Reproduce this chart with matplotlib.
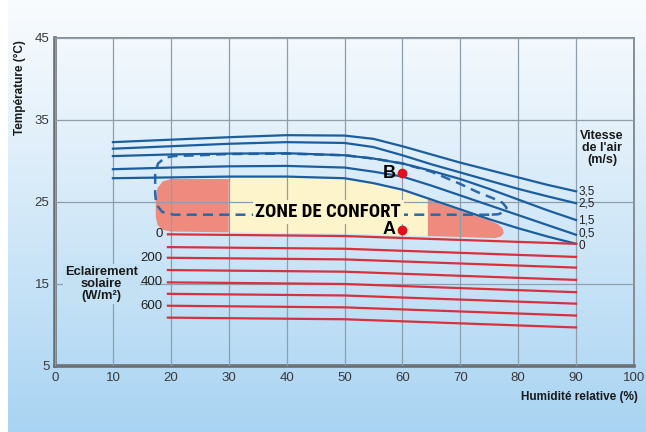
import numpy as np
import matplotlib.pyplot as plt
from matplotlib import font_manager

plt.rcParams['font.family'] = ['Liberation Sans', 'DejaVu Sans']

# air speed curves (m/s), temperature vs relative humidity
humidity = [10, 20, 30, 40, 50, 55, 60, 65, 70, 75, 80, 85, 90]
speed_labels = ["3,5", "2,5", "1,5", "0,5", "0"]
t_v35 = [32.3, 32.6, 32.9, 33.15, 33.1, 32.7, 31.8, 30.8, 29.8, 28.9, 28.0, 27.1, 26.3]
t_v25 = [31.5, 31.8, 32.1, 32.3, 32.2, 31.7, 30.7, 29.6, 28.6, 27.6, 26.6, 25.7, 24.85]
t_v15 = [30.6, 30.8, 30.9, 30.95, 30.7, 30.3, 29.7, 28.8, 27.8, 26.6, 25.3, 24.0, 22.8]
t_v05 = [29.0, 29.2, 29.35, 29.4, 29.2, 28.7, 28.1, 27.0, 25.8, 24.6, 23.4, 22.2, 21.0]
t_v0 = [27.9, 28.0, 28.1, 28.1, 27.9, 27.3, 26.5, 25.3, 24.1, 22.9, 21.8, 20.8, 19.9]

# solar irradiance lines (W/m2): 0,100,...,700
solar_x = [19.5, 50, 90]
solar_labels = ["0", "200", "400", "600"]
t_s0 = [21.06, 20.85, 19.9]
t_s100 = [19.5, 19.3, 18.3]
t_s200 = [18.2, 18.0, 17.0]
t_s300 = [16.7, 16.5, 15.5]
t_s400 = [15.2, 15.0, 14.0]
t_s500 = [13.8, 13.6, 12.6]
t_s600 = [12.35, 12.15, 11.15]
t_s700 = [10.9, 10.7, 9.7]

# comfort zone shapes
pinkL_x = [30, 20, 18.6, 17.7, 17.4, 17.4, 17.7, 18.6, 20, 30]
pinkL_t = [27.8, 27.8, 27.5, 26.7, 25.6, 23.2, 22.2, 21.6, 21.4, 21.3]
yellow_x = [30, 40, 50, 55, 60, 64.4, 64.4, 50, 30]
yellow_t = [27.95, 27.95, 27.75, 27.15, 26.35, 25.3, 20.85, 21.15, 21.3]
pinkR_x = [64.4, 65, 70, 75, 76.5, 77.3, 77.5, 77.0, 76, 64.4]
pinkR_t = [25.3, 25.15, 23.95, 22.75, 22.3, 21.8, 21.2, 20.8, 20.6, 20.85]

# dashed outline
dash_x = [75, 20.5, 18.5, 17.5, 17.3, 17.3, 17.8, 19.0, 20.5, 25, 30, 40, 50, 55, 60,
          65, 70, 73, 75.5, 77.3, 78.0, 77.6, 76.5, 75]
dash_t = [23.45, 23.45, 23.8, 24.7, 26.0, 28.5, 29.7, 30.4, 30.6, 30.7, 30.85, 30.9, 30.7,
          30.3, 29.7, 28.7, 27.2, 26.2, 25.5, 24.9, 24.3, 23.8, 23.5, 23.45]

point_x = [60, 60]
point_t = [28.5, 21.6]
point_names = ["B", "A"]

blue = "#1b5e9f"
red = "#d8303c"

# pick a narrow bold face for the zone title if one is installed
zone_font = dict(family=["Liberation Sans", "DejaVu Sans"], fontsize=10.5)
fonts = font_manager.fontManager.ttflist
names = {f.name for f in fonts}
for cand in ["Liberation Sans Narrow", "Roboto Condensed", "Open Sans Condensed",
             "DejaVu Sans Condensed", "Arial Narrow"]:
    if cand in names:
        zone_font = dict(family=[cand, "DejaVu Sans"], fontsize=13.5)
        break
else:
    if any(f.name == "DejaVu Sans" and f.stretch == "condensed" and f.weight == 700
           for f in fonts):
        zone_font = dict(family=["DejaVu Sans"], fontstretch="condensed", fontsize=12.5)

fig = plt.figure(figsize=(6.46, 4.32), dpi=100)
fig.patch.set_facecolor("white")

# gradient background panel
bg = fig.add_axes([8 / 646, 0, 1 - 8 / 646, 1])
grad = np.linspace(0, 1, 256).reshape(-1, 1)
top_c = np.array([0.975, 0.985, 0.995])
bot_c = np.array([0.66, 0.83, 0.95])
img = top_c + (bot_c - top_c) * grad[:, :, None] ** 1.1
bg.imshow(img, aspect="auto", extent=[0, 1, 0, 1], origin="upper")
bg.axis("off")
bg.set_zorder(-1)

ax = fig.add_axes([55 / 646, 1 - 366 / 432, 579 / 646, 328 / 432])
ax.set_facecolor("none")
ax.set_xlim(0, 100)
ax.set_ylim(5, 45)
ax.set_xticks(range(0, 101, 10))
ax.set_yticks([5, 15, 25, 35, 45])
ax.grid(True, color="#8d9eac", lw=0.9, zorder=1.5)
ax.set_axisbelow(False)
ax.tick_params(length=0, labelsize=9.5, colors="#3a3a3a", pad=4)
for s in ["left", "bottom"]:
    ax.spines[s].set_linewidth(2.6)
    ax.spines[s].set_color("#6b6f73")
for s in ["top", "right"]:
    ax.spines[s].set_linewidth(1.3)
    ax.spines[s].set_color("#7f858a")

ax.fill(yellow_x, yellow_t, color="#fdf4cb", lw=0, zorder=1)
ax.fill(pinkL_x, pinkL_t, color="#ee8b7e", lw=0, zorder=2)
ax.fill(pinkR_x, pinkR_t, color="#ee8b7e", lw=0, zorder=2)

ax.plot(dash_x, dash_t, color="#2a68aa", lw=1.8, ls=(0, (4, 2.5)), zorder=3)

label_nudge = [0, 0, 0, 0.1, -0.3]
for t, lab, dn in zip([t_v35, t_v25, t_v15, t_v05, t_v0], speed_labels, label_nudge):
    ax.plot(humidity, t, color=blue, lw=1.6, zorder=4)
    ax.text(90.4, t[-1] + dn, lab, fontsize=8.5, va="center", ha="left", color="#222222")

solar = [t_s0, t_s100, t_s200, t_s300, t_s400, t_s500, t_s600, t_s700]
for i, t in enumerate(solar):
    ax.plot(solar_x, t, color=red, lw=1.6, zorder=4)
    if i % 2 == 0:
        ax.text(18.6, t[0], solar_labels[i // 2], fontsize=9.5, va="center", ha="right",
                color="#222222", zorder=6)

ax.scatter(point_x, point_t, s=36, color="#e0101e", zorder=6)
for x, t, n in zip(point_x, point_t, point_names):
    ax.text(x - 1.2, t, n, fontsize=13, fontweight="bold", ha="right", va="center", zorder=6)

ax.text(47.2, 23.8, "ZONE DE CONFORT", fontweight="bold", ha="center", va="center",
        zorder=5, bbox=dict(boxstyle="square,pad=0.15", fc="#fdf4cb", ec="none"),
        **zone_font)

ax.text(94.5, 31.6, "Vitesse\nde l'air\n(m/s)", fontsize=9, fontweight="bold",
        ha="center", va="center", linespacing=1.0, color="#1a1a1a")
ax.text(8.0, 15.0, "Eclairement\nsolaire\n(W/m²)", fontsize=9.3, fontweight="bold",
        ha="center", va="center", linespacing=1.0, color="#1a1a1a", zorder=3,
        bbox=dict(boxstyle="square,pad=0.15", fc="#c4e1f4", ec="none"))

fig.text(20 / 646, 1 - 88 / 432, "Température (°C)", rotation=90, fontsize=8.5,
         fontweight="bold", ha="center", va="center", color="#1a1a1a")
fig.text(638 / 646, 1 - 397 / 432, "Humidité relative (%)", fontsize=8.5,
         fontweight="bold", ha="right", va="center", color="#1a1a1a")

fig.savefig("out.png", dpi=100)
